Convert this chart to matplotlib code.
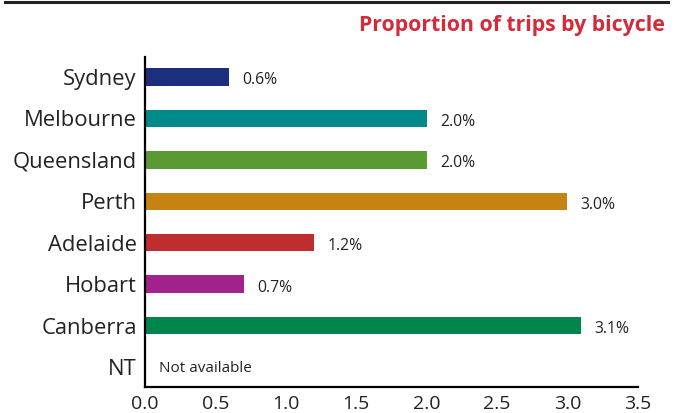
import numpy as np
import matplotlib
matplotlib.use("Agg")
import matplotlib.pyplot as plt
from matplotlib.lines import Line2D

plt.rcParams['font.family'] = ['Open Sans', 'DejaVu Sans']

# Share of trips made by bicycle, per city/state
cities = ['Sydney', 'Melbourne', 'Queensland', 'Perth', 'Adelaide', 'Hobart', 'Canberra', 'NT']
share = [0.6, 2.0, 2.0, 3.0, 1.2, 0.7, 3.1, np.nan]
bar_colors = ['#1b2f7e', '#008a8a', '#5a9a35', '#c48312', '#bf2e2e', '#a0228a', '#00864c', '#ffffff']
x_ticks = [0.0, 0.5, 1.0, 1.5, 2.0, 2.5, 3.0, 3.5]

fig = plt.figure(figsize=(6.83, 4.13), dpi=100)
ax = fig.add_axes([0.2123, 0.063, 0.7215, 0.799])

ypos = np.arange(len(cities))
ax.barh(ypos, np.nan_to_num(share), height=0.42, color=bar_colors)

# value labels to the right of each bar
for y, v in zip(ypos, share):
    if np.isnan(v):
        ax.annotate('Not available', xy=(0, y), xytext=(10, -1), textcoords='offset points',
                    ha='left', va='center', fontsize=11, color='#222222')
    else:
        ax.annotate(f'{v:.1f}%', xy=(v, y), xytext=(9.5, -2.5), textcoords='offset points',
                    ha='left', va='center', fontsize=11.3, color='#222222')

ax.set_xlim(0, 3.5)
ax.set_ylim(len(cities) - 0.52, -0.48)
ax.set_yticks(ypos)
ax.set_yticklabels(cities, fontsize=15.8, color='#222222')
ax.set_xticks(x_ticks)
ax.set_xticklabels([f'{t:.1f}' for t in x_ticks], fontsize=14, color='#222222')
ax.tick_params(axis='both', length=0)
ax.tick_params(axis='y', pad=6)
ax.tick_params(axis='x', pad=6)

for side in ['top', 'right']:
    ax.spines[side].set_visible(False)
for side in ['left', 'bottom']:
    ax.spines[side].set_linewidth(1.6)
    ax.spines[side].set_color('black')

# heading and rule across the top
fig.add_artist(Line2D([5 / 683, 668 / 683], [1 - 1.5 / 413, 1 - 1.5 / 413],
                      transform=fig.transFigure, color='#222222', linewidth=2.2))
fig.text(665 / 683, 1 - 31 / 413, 'Proportion of trips by bicycle', ha='right', va='baseline',
         fontsize=15.3, fontweight='bold', color='#d42a3a')

fig.savefig('out.png', dpi=100)
